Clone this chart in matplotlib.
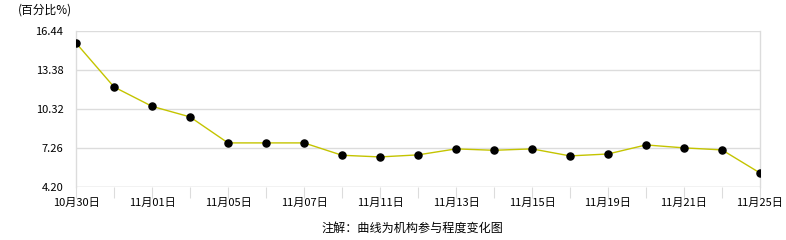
import matplotlib
matplotlib.use('Agg')
import matplotlib.pyplot as plt

plt.rcParams['font.family'] = ['Noto Sans CJK SC', 'DejaVu Sans']

DATES = ['10月30日', '10月31日', '11月01日', '11月04日', '11月05日', '11月06日',
         '11月07日', '11月08日', '11月11日', '11月12日', '11月13日', '11月14日',
         '11月15日', '11月18日', '11月19日', '11月20日', '11月21日', '11月22日',
         '11月25日']
VALUES = [15.50, 12.05, 10.53, 9.70, 7.66, 7.66, 7.66, 6.69, 6.56, 6.72,
          7.19, 7.08, 7.19, 6.64, 6.79, 7.50, 7.27, 7.11, 5.30]
Y_TICKS = [4.20, 7.26, 10.32, 13.38, 16.44]

LINE_COLOR = '#c4c400'
GRID_COLOR = '#dcdcdc'

fig = plt.figure(figsize=(7.86, 2.4), dpi=100)
ax = fig.add_axes([76 / 786, 53 / 240, 684 / 786, 156 / 240])

x = list(range(len(VALUES)))
ax.plot(x, VALUES, color=LINE_COLOR, linewidth=1.0, zorder=3)
ax.scatter(x, VALUES, color='black', s=26, zorder=4)

ax.set_xlim(0, len(VALUES) - 1)
ax.set_ylim(Y_TICKS[0], Y_TICKS[-1])
ax.set_yticks(Y_TICKS)
ax.set_yticklabels(['{:.2f}'.format(v) for v in Y_TICKS], fontsize=8)
ax.yaxis.grid(True, color=GRID_COLOR, linewidth=1.0)
ax.set_axisbelow(True)

ax.set_xticks(x)
ax.set_xticklabels([d if i % 2 == 0 else '' for i, d in enumerate(DATES)],
                   fontsize=8)
ax.tick_params(axis='x', length=8, color=GRID_COLOR, pad=0)
ax.tick_params(axis='y', length=0, pad=9)

for s in ['left', 'right']:
    ax.spines[s].set_color(GRID_COLOR)
    ax.spines[s].set_linewidth(1.0)
ax.spines['top'].set_visible(False)
ax.spines['bottom'].set_visible(False)
ax.axhline(Y_TICKS[0], color=GRID_COLOR, linewidth=1.0, zorder=1)

fig.text(18 / 786, 1 - 10 / 240, '(百分比%)', fontsize=8.5, va='center', ha='left')
fig.text(412 / 786, 1 - 228 / 240, '注解：曲线为机构参与程度变化图',
         fontsize=8.7, va='center', ha='center')

fig.savefig('out.png', dpi=100, facecolor='white')
